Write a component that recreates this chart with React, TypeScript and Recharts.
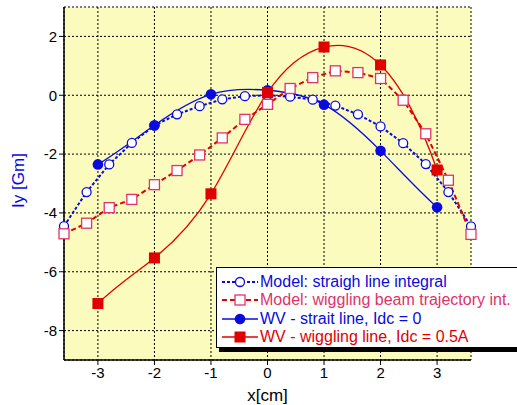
import React from 'react';
import { LineChart, Line, XAxis, YAxis, CartesianGrid } from 'recharts';

// x positions of the model curves (cm)
const modelX = [-3.6, -3.2, -2.8, -2.4, -2.0, -1.6, -1.2, -0.8, -0.4, 0, 0.4, 0.8, 1.2, 1.6, 2.0, 2.4, 2.8, 3.2, 3.6];
const straightModel = [-4.45, -3.29, -2.35, -1.62, -1.03, -0.65, -0.37, -0.14, -0.03, 0.0, -0.05, -0.15, -0.35, -0.65, -1.06, -1.63, -2.34, -3.29, -4.46];
const wigglingModel = [-4.71, -4.35, -3.82, -3.54, -3.04, -2.56, -2.03, -1.45, -0.82, -0.31, 0.23, 0.6, 0.83, 0.77, 0.57, -0.17, -1.31, -2.89, -4.73];

// measured points (WV)
const wvX = [-3, -2, -1, 0, 1, 2, 3];
const wvStraight = [-2.35, -1.02, 0.03, 0.17, -0.32, -1.89, -3.81];
const wvWiggling = [-7.08, -5.53, -3.35, 0.09, 1.64, 1.03, -2.54];

const xTicks = [-3, -2, -1, 0, 1, 2, 3];
const yTicks = [-8, -6, -4, -2, 0, 2];
const yMinorTicks = [-9, -8.5, -8, -7.5, -7, -6.5, -6, -5.5, -5, -4.5, -4, -3.5, -3, -2.5, -2, -1.5, -1, -0.5, 0, 0.5, 1, 1.5, 2, 2.5, 3];

const seriesNames = [
  'Model: straigh line integral',
  'Model: wiggling beam trajectory int.',
  'WV - strait line, Idc = 0',
  'WV - wiggling line, Idc = 0.5A',
];

const BLUE = '#0a0ae0';
const RED = '#e00000';
const PINK = '#e0336a';
const FONT = '"Liberation Sans", sans-serif';

const zip = (xs: number[], ys: number[]) => xs.map((x, i) => ({ x, y: ys[i] }));

// cubic spline (not-a-knot ends), like Origin's "spline" connect
function solve(A: number[][], b: number[]) {
  const n = b.length;
  const m = A.map((row, i) => [...row, b[i]]);
  for (let c = 0; c < n; c++) {
    let p = c;
    for (let r = c + 1; r < n; r++) if (Math.abs(m[r][c]) > Math.abs(m[p][c])) p = r;
    [m[c], m[p]] = [m[p], m[c]];
    for (let r = c + 1; r < n; r++) {
      const f = m[r][c] / m[c][c];
      for (let k = c; k <= n; k++) m[r][k] -= f * m[c][k];
    }
  }
  const x = new Array(n).fill(0);
  for (let r = n - 1; r >= 0; r--) {
    let s = m[r][n];
    for (let k = r + 1; k < n; k++) s -= m[r][k] * x[k];
    x[r] = s / m[r][r];
  }
  return x;
}

const splineCurve = (context: any) => {
  let xs: number[] = [];
  let ys: number[] = [];
  return {
    areaStart() {},
    areaEnd() {},
    lineStart() {
      xs = [];
      ys = [];
    },
    point(x: number, y: number) {
      xs.push(+x);
      ys.push(+y);
    },
    lineEnd() {
      const n = xs.length;
      if (n === 0) return;
      context.moveTo(xs[0], ys[0]);
      if (n < 4) {
        for (let i = 1; i < n; i++) context.lineTo(xs[i], ys[i]);
        return;
      }
      const h = xs.slice(1).map((v, i) => v - xs[i]);
      const A: number[][] = [];
      const b: number[] = [];
      const row = () => new Array(n).fill(0);
      let r = row();
      r[0] = h[1];
      r[1] = -(h[0] + h[1]);
      r[2] = h[0];
      A.push(r);
      b.push(0);
      for (let i = 1; i < n - 1; i++) {
        r = row();
        r[i - 1] = h[i - 1];
        r[i] = 2 * (h[i - 1] + h[i]);
        r[i + 1] = h[i];
        A.push(r);
        b.push(6 * ((ys[i + 1] - ys[i]) / h[i] - (ys[i] - ys[i - 1]) / h[i - 1]));
      }
      r = row();
      r[n - 3] = h[n - 2];
      r[n - 2] = -(h[n - 3] + h[n - 2]);
      r[n - 1] = h[n - 3];
      A.push(r);
      b.push(0);
      const M = solve(A, b);
      for (let i = 0; i < n - 1; i++) {
        const hi = h[i];
        const s = (ys[i + 1] - ys[i]) / hi;
        const d0 = s - (hi * (2 * M[i] + M[i + 1])) / 6;
        const d1 = s + (hi * (M[i] + 2 * M[i + 1])) / 6;
        context.bezierCurveTo(
          xs[i] + hi / 3,
          ys[i] + (d0 * hi) / 3,
          xs[i + 1] - hi / 3,
          ys[i + 1] - (d1 * hi) / 3,
          xs[i + 1],
          ys[i + 1],
        );
      }
    },
  };
};

const OpenCircle = (props: any) => {
  const { cx, cy } = props;
  if (cx == null || cy == null) return null;
  return <circle cx={cx} cy={cy} r={4.5} fill="#fff" stroke={BLUE} strokeWidth={1.3} />;
};
const OpenSquare = (props: any) => {
  const { cx, cy } = props;
  if (cx == null || cy == null) return null;
  return <rect x={cx - 5} y={cy - 5} width={10} height={10} fill="#fff" stroke={PINK} strokeWidth={1.3} />;
};
const FilledCircle = (props: any) => {
  const { cx, cy } = props;
  if (cx == null || cy == null) return null;
  return <circle cx={cx} cy={cy} r={5.3} fill={BLUE} stroke="none" />;
};
const FilledSquare = (props: any) => {
  const { cx, cy } = props;
  if (cx == null || cy == null) return null;
  return <rect x={cx - 5.5} y={cy - 5.5} width={11} height={11} fill={RED} stroke="none" />;
};

const LegendSymbol = ({ idx }: { idx: number }) => {
  const w = 36;
  const c = 18;
  if (idx === 0)
    return (
      <svg width={w} height={14}>
        <line x1={0} y1={7} x2={w} y2={7} stroke={BLUE} strokeWidth={2} strokeDasharray="3 2" />
        <circle cx={c} cy={7} r={4.5} fill="#fff" stroke={BLUE} strokeWidth={1.3} />
      </svg>
    );
  if (idx === 1)
    return (
      <svg width={w} height={14}>
        <line x1={0} y1={7} x2={w} y2={7} stroke={RED} strokeWidth={2} strokeDasharray="5 3" />
        <rect x={c - 5} y={2} width={10} height={10} fill="#fff" stroke={PINK} strokeWidth={1.3} />
      </svg>
    );
  if (idx === 2)
    return (
      <svg width={w} height={14}>
        <line x1={0} y1={7} x2={w} y2={7} stroke={BLUE} strokeWidth={1.3} />
        <circle cx={c} cy={7} r={5.3} fill={BLUE} />
      </svg>
    );
  return (
    <svg width={w} height={14}>
      <line x1={0} y1={7} x2={w} y2={7} stroke={RED} strokeWidth={1.3} />
      <rect x={c - 5.5} y={1.5} width={11} height={11} fill={RED} />
    </svg>
  );
};

const legendTextColors = [BLUE, PINK, BLUE, RED];

export default function App() {
  return (
    <div
      style={{
        position: 'absolute',
        left: 0,
        top: 0,
        width: 517,
        height: 405,
        overflow: 'hidden',
        background: '#fff',
        fontFamily: FONT,
      }}
    >
      <LineChart
        width={517}
        height={405}
        margin={{ top: 7, right: 46, left: 0, bottom: 0 }}
        style={{ fontFamily: FONT }}
      >
        <CartesianGrid fill="#fbfbbd" stroke="#000" strokeDasharray="2 2" strokeWidth={1} />
        <XAxis
          type="number"
          dataKey="x"
          domain={[-3.6, 3.6]}
          ticks={xTicks}
          height={45}
          axisLine={{ stroke: '#000', strokeWidth: 1.5 }}
          tickLine={{ stroke: '#000' }}
          tickSize={5}
          tick={{ fill: '#000', fontSize: 15, fontFamily: FONT }}
          label={{
            content: ({ viewBox }: any) => (
              <text
                x={viewBox.x + viewBox.width / 2}
                y={viewBox.y + 41}
                textAnchor="middle"
                fontSize={17}
                fontFamily={FONT}
                fill="#000"
              >
                x[cm]
              </text>
            ),
          }}
        />
        <XAxis
          xAxisId="top"
          type="number"
          dataKey="x"
          orientation="top"
          domain={[-3.6, 3.6]}
          height={0}
          tick={false}
          tickLine={false}
          axisLine={{ stroke: '#000', strokeWidth: 1.5 }}
        />
        <YAxis
          type="number"
          domain={[-9, 3]}
          ticks={yTicks}
          width={64}
          axisLine={{ stroke: '#000', strokeWidth: 1.5 }}
          tickLine={{ stroke: '#000' }}
          tickSize={5}
          tick={{ fill: '#000', fontSize: 15, fontFamily: FONT }}
          label={{
            content: ({ viewBox }: any) => {
              const cx = 18;
              const cy = viewBox.y + viewBox.height / 2 - 3;
              return (
                <text
                  x={cx}
                  y={cy}
                  transform={`rotate(-90 ${cx} ${cy})`}
                  textAnchor="middle"
                  dominantBaseline="central"
                  fontSize={17}
                  fontFamily={FONT}
                  fill={BLUE}
                >
                  Iy [Gm]
                </text>
              );
            },
          }}
        />
        <YAxis
          yAxisId="minor"
          type="number"
          domain={[-9, 3]}
          ticks={yMinorTicks}
          width={0}
          tick={false}
          tickSize={3}
          tickLine={{ stroke: '#000' }}
          axisLine={false}
        />
        <YAxis
          yAxisId="right"
          orientation="right"
          type="number"
          domain={[-9, 3]}
          width={0}
          tick={false}
          tickLine={false}
          axisLine={{ stroke: '#000', strokeWidth: 1.5 }}
        />
        <Line
          data={zip(modelX, straightModel)}
          dataKey="y"
          name={seriesNames[0]}
          type="linear"
          stroke={BLUE}
          strokeWidth={2}
          strokeDasharray="3 2"
          dot={<OpenCircle />}
          isAnimationActive={false}
        />
        <Line
          data={zip(modelX, wigglingModel)}
          dataKey="y"
          name={seriesNames[1]}
          type="linear"
          stroke={RED}
          strokeWidth={2}
          strokeDasharray="5 3"
          dot={<OpenSquare />}
          isAnimationActive={false}
        />
        <Line
          data={zip(wvX, wvStraight)}
          dataKey="y"
          name={seriesNames[2]}
          type={splineCurve as any}
          stroke={BLUE}
          strokeWidth={1.3}
          dot={<FilledCircle />}
          isAnimationActive={false}
        />
        <Line
          data={zip(wvX, wvWiggling)}
          dataKey="y"
          name={seriesNames[3]}
          type={splineCurve as any}
          stroke={RED}
          strokeWidth={1.3}
          dot={<FilledSquare />}
          isAnimationActive={false}
        />
      </LineChart>
      <div
        style={{
          position: 'absolute',
          left: 216,
          top: 267,
          width: 330,
          height: 81,
          boxSizing: 'border-box',
          background: '#fff',
          border: '1.5px solid #000',
          boxShadow: '3px 4px 0 #000',
          paddingTop: 5,
          paddingLeft: 5,
        }}
      >
        {seriesNames.map((name, i) => (
          <div key={name} style={{ display: 'flex', alignItems: 'center', height: 18.3 }}>
            <LegendSymbol idx={i} />
            <span style={{ marginLeft: 2, fontSize: 16, color: legendTextColors[i], whiteSpace: 'nowrap' }}>
              {name}
            </span>
          </div>
        ))}
      </div>
    </div>
  );
}
